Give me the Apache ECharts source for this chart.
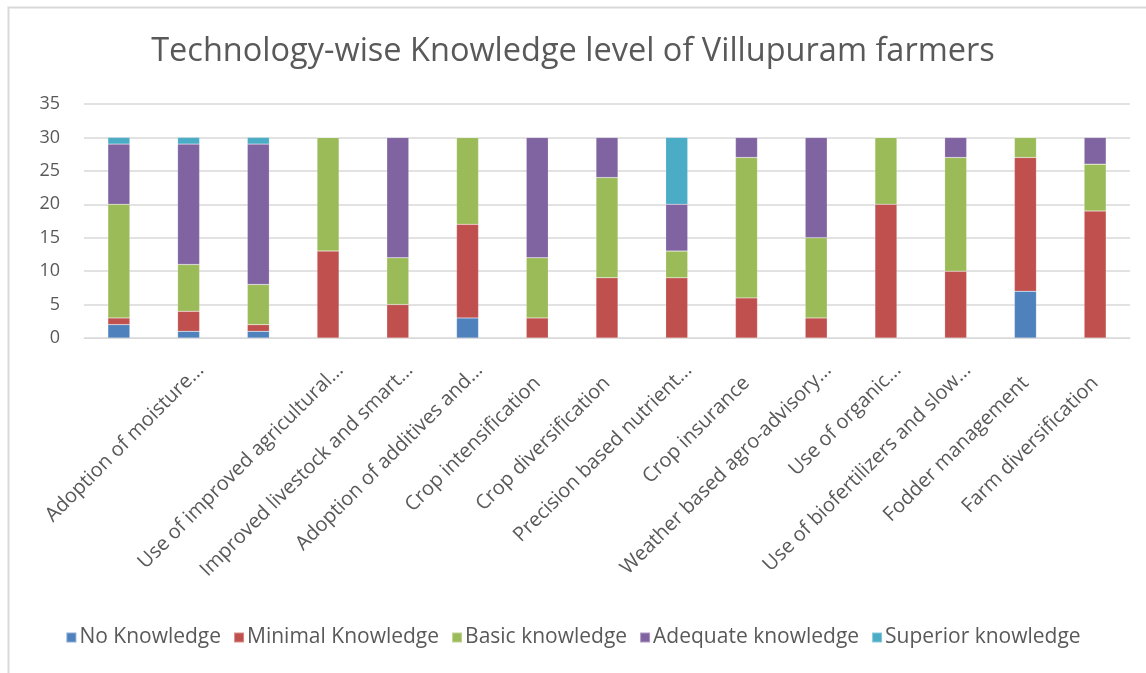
<!DOCTYPE html>
<html>
<head>
<meta charset="utf-8">
<script src="https://cdn.jsdelivr.net/npm/echarts@6/dist/echarts.min.js"></script>
<style>
html,body{margin:0;padding:0;background:#fff;}
#chart{width:1146px;height:673px;}
</style>
</head>
<body>
<div id="chart"></div>
<script>
// ---- data ----
const categories = [
  '', 'Adoption of moisture...', '', 'Use of improved agricultural...',
  'Improved livestock and smart...', 'Adoption of additives and...',
  'Crop intensification', 'Crop diversification', 'Precision based nutrient...',
  'Crop insurance', 'Weather based agro-advisory...', 'Use of organic...',
  'Use of biofertilizers and slow...', 'Fodder management', 'Farm diversification'
];
const seriesNames = ['No Knowledge', 'Minimal Knowledge', 'Basic knowledge', 'Adequate knowledge', 'Superior knowledge'];
const noKnowledge       = [2, 1, 1, 0, 0, 3, 0, 0, 0, 0, 0, 0, 0, 7, 0];
const minimalKnowledge  = [1, 3, 1, 13, 5, 14, 3, 9, 9, 6, 3, 20, 10, 20, 19];
const basicKnowledge    = [17, 7, 6, 17, 7, 13, 9, 15, 4, 21, 12, 10, 17, 3, 7];
const adequateKnowledge = [9, 18, 21, 0, 18, 0, 18, 6, 7, 3, 15, 0, 3, 0, 4];
const superiorKnowledge = [1, 1, 1, 0, 0, 0, 0, 0, 10, 0, 0, 0, 0, 0, 0];
const yTicks = { min: 0, max: 35, interval: 5 };

const colors = ['#4F81BD', '#C0504D', '#9BBB59', '#8064A2', '#4BACC6'];
const values = [noKnowledge, minimalKnowledge, basicKnowledge, adequateKnowledge, superiorKnowledge];
const FONT = 'Open Sans';
const TXT = '#595959';

// labels ending with an ellipsis sit on a slightly shifted axis (as in the original)
const isEll = s => s.endsWith('...');
const plainLabels = categories.map(c => isEll(c) ? '' : c);
const ellLabels = categories.map(c => isEll(c) ? c : '');

const chart = echarts.init(document.getElementById('chart'));
chart.setOption({
  animation: false,
  color: colors,
  title: {
    text: 'Technology-wise Knowledge level of Villupuram farmers',
    left: 'center', top: 30,
    textStyle: { fontFamily: FONT, fontSize: 32.5, fontWeight: 'normal', color: TXT }
  },
  legend: {
    data: seriesNames,
    bottom: 20, left: 'center',
    icon: 'rect', itemWidth: 10, itemHeight: 10, itemGap: 12,
    textStyle: { fontFamily: FONT, fontSize: 21, color: TXT, padding: [0, 0, 0, -2] }
  },
  grid: [
    { left: 84, right: 16, top: 104, bottom: 335 },
    { left: 96, right: 4, top: 104, bottom: 335 }
  ],
  xAxis: [
    {
      type: 'category', data: plainLabels, gridIndex: 0,
      axisLine: { lineStyle: { color: '#d9d9d9', width: 1 } },
      axisTick: { show: false },
      axisLabel: { interval: 0, rotate: 45, margin: 42, fontFamily: FONT, fontSize: 20, color: TXT }
    },
    {
      type: 'category', data: ellLabels, gridIndex: 1,
      axisLine: { show: false }, axisTick: { show: false },
      axisLabel: { interval: 0, rotate: 45, margin: 29, fontFamily: FONT, fontSize: 20, color: TXT }
    }
  ],
  yAxis: [
    {
      type: 'value', gridIndex: 0, min: yTicks.min, max: yTicks.max, interval: yTicks.interval,
      axisLine: { show: false }, axisTick: { show: false },
      splitLine: { lineStyle: { color: '#d9d9d9', width: 1.5 } },
      axisLabel: { margin: 24, fontFamily: FONT, fontSize: 18, color: TXT }
    },
    { type: 'value', gridIndex: 1, show: false, min: 0, max: 35 }
  ],
  series: seriesNames.map((name, i) => ({
    name, type: 'bar', stack: 'total', data: values[i],
    xAxisIndex: 0, yAxisIndex: 0,
    barWidth: 22,
    itemStyle: { color: colors[i], borderColor: 'rgba(255,255,255,0.35)', borderWidth: 0.5 }
  })),
  graphic: [{
    type: 'rect', left: 6, top: 5, silent: true, z: -10,
    shape: { width: 1160, height: 720 },
    style: { fill: 'none', stroke: '#d9d9d9', lineWidth: 2 }
  }]
});
</script>
</body>
</html>
